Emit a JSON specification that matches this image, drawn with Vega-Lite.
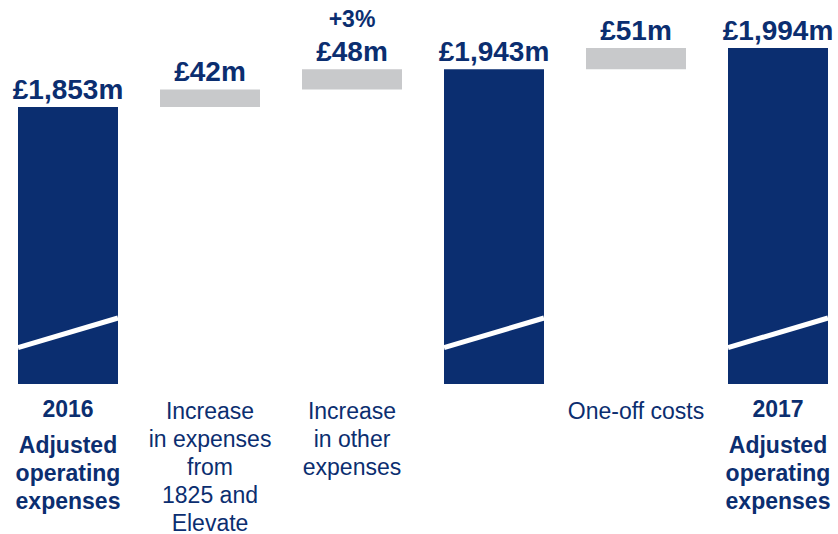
{
  "$schema": "https://vega.github.io/schema/vega-lite/v6.json",
  "width": 838,
  "height": 384,
  "autosize": {"type": "none"},
  "padding": {"left": 0, "top": 0, "right": 0, "bottom": 150},
  "background": "white",
  "config": {"view": {"stroke": null}, "font": "Liberation Sans"},
  "data": {
    "values": [
      {"cat": "2016", "start": 0, "end": 1853, "kind": "total", "label": "£1,853m", "year": "2016"},
      {"cat": "1825 and Elevate", "start": 1853, "end": 1895, "kind": "delta", "label": "£42m"},
      {"cat": "Other expenses", "start": 1895, "end": 1943, "kind": "delta", "label": "£48m", "note": "+3%"},
      {"cat": "Subtotal", "start": 0, "end": 1943, "kind": "total", "label": "£1,943m"},
      {"cat": "One-off costs", "start": 1943, "end": 1994, "kind": "delta", "label": "£51m"},
      {"cat": "2017", "start": 0, "end": 1994, "kind": "total", "label": "£1,994m", "year": "2017"}
    ]
  },
  "encoding": {
    "x": {
      "field": "cat",
      "type": "nominal",
      "sort": ["2016", "1825 and Elevate", "Other expenses", "Subtotal", "One-off costs", "2017"],
      "scale": {"paddingInner": 0.2958, "paddingOuter": 0.0986, "align": 0.643},
      "axis": {
        "title": null,
        "domain": false,
        "ticks": false,
        "grid": false,
        "labelAngle": 0,
        "labelFont": "Liberation Sans",
        "labelFontSize": 23,
        "labelColor": "#0b2e70",
        "labelLineHeight": 28,
        "labelBaseline": "top",
        "labelLimit": 400,
        "labelOverlap": false,
        "labelBound": false,
        "labelPadding": {"condition": {"test": "datum.value == '2016' || datum.value == '2017'", "value": 50}, "value": 16},
        "labelFontWeight": {"condition": {"test": "datum.value == '2016' || datum.value == '2017'", "value": "bold"}, "value": "normal"},
        "labelExpr": "datum.value == '2016' || datum.value == '2017' ? ['Adjusted', 'operating', 'expenses'] : datum.value == '1825 and Elevate' ? ['Increase', 'in expenses', 'from', '1825 and', 'Elevate'] : datum.value == 'Other expenses' ? ['Increase', 'in other', 'expenses'] : datum.value == 'One-off costs' ? 'One-off costs' : ''"
      }
    }
  },
  "layer": [
    {
      "mark": {"type": "bar", "clip": true},
      "encoding": {
        "y": {"field": "end", "type": "quantitative", "scale": {"domain": [1190, 2109], "zero": false, "nice": false}, "axis": null},
        "y2": {"field": "start"},
        "color": {"field": "kind", "type": "nominal", "scale": {"domain": ["total", "delta"], "range": ["#0b2e70", "#c8c9cb"]}, "legend": null}
      }
    },
    {
      "transform": [{"filter": "datum.kind == 'total'"}],
      "mark": {"type": "rule", "stroke": "white", "strokeWidth": 5},
      "encoding": {
        "x": {"field": "cat", "type": "nominal", "bandPosition": 0},
        "x2": {"field": "cat", "bandPosition": 1},
        "y": {"datum": 1277, "type": "quantitative"},
        "y2": {"datum": 1348}
      }
    },
    {
      "mark": {"type": "text", "baseline": "alphabetic", "dy": -8, "fontSize": 28, "fontWeight": "bold", "color": "#0b2e70", "font": "Liberation Sans"},
      "encoding": {
        "y": {"field": "end", "type": "quantitative"},
        "text": {"field": "label"}
      }
    },
    {
      "transform": [{"filter": "datum.note"}],
      "mark": {"type": "text", "baseline": "alphabetic", "dy": -42, "fontSize": 23, "fontWeight": "bold", "color": "#0b2e70", "font": "Liberation Sans"},
      "encoding": {
        "y": {"field": "end", "type": "quantitative"},
        "text": {"field": "note"}
      }
    },
    {
      "transform": [{"filter": "datum.year"}],
      "mark": {"type": "text", "baseline": "middle", "dy": 26, "fontSize": 23, "fontWeight": "bold", "color": "#0b2e70", "font": "Liberation Sans"},
      "encoding": {
        "y": {"datum": 1190, "type": "quantitative"},
        "text": {"field": "year"}
      }
    }
  ]
}
